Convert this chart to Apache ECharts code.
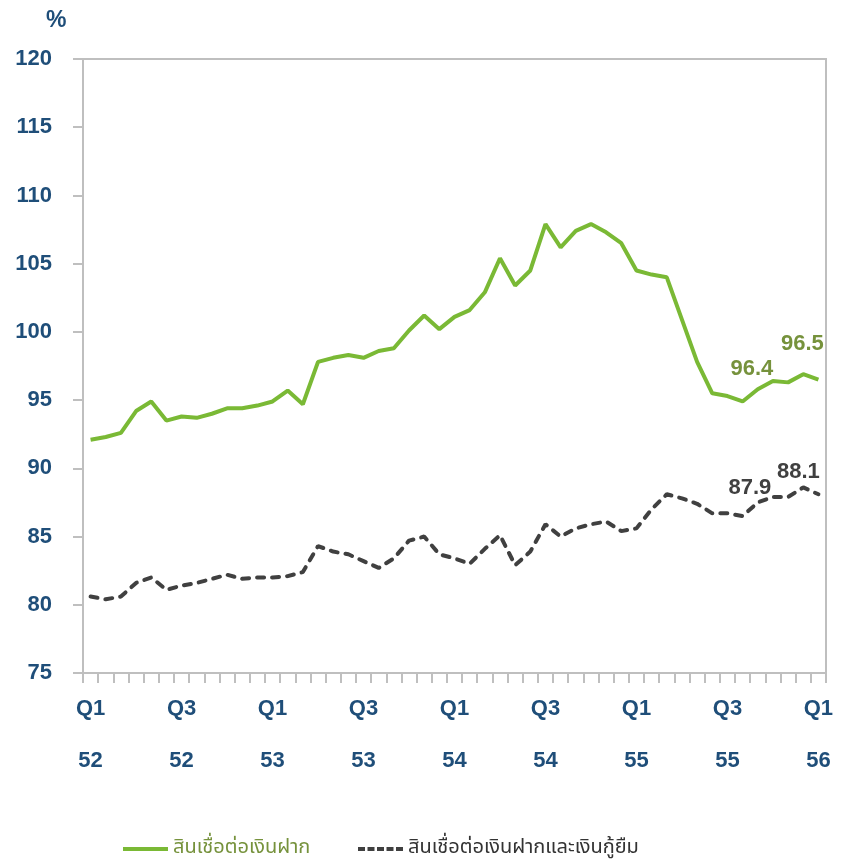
<!DOCTYPE html>
<html>
<head>
<meta charset="utf-8">
<script src="https://cdn.jsdelivr.net/npm/echarts@6/dist/echarts.min.js"></script>
<style>
	html,body{margin:0;padding:0;background:#fff;}
	#chart{width:846px;height:863px;}
</style>
</head>
<body>
<div id="chart"></div>
<script>
// เดือน (ปี พ.ศ. 2 หลัก)
var categories=['01/52','02/52','03/52','04/52','05/52','06/52','07/52','08/52','09/52','10/52','11/52','12/52',
	'01/53','02/53','03/53','04/53','05/53','06/53','07/53','08/53','09/53','10/53','11/53','12/53',
	'01/54','02/54','03/54','04/54','05/54','06/54','07/54','08/54','09/54','10/54','11/54','12/54',
	'01/55','02/55','03/55','04/55','05/55','06/55','07/55','08/55','09/55','10/55','11/55','12/55',
	'01/56'];
// ชื่อไตรมาสที่แสดงบนแกน
var quarterNames={'01':'Q1','07':'Q3'};
var yTicks=[75,80,85,90,95,100,105,110,115,120];

var nameDeposit='สินเชื่อต่อเงินฝาก';
var nameDepositBorrow='สินเชื่อต่อเงินฝากและเงินกู้ยืม';

var depositData=[92.1,92.3,92.6,94.2,94.9,93.5,93.8,93.7,94.0,94.4,94.4,94.6,
	94.9,95.7,94.7,97.8,98.1,98.3,98.1,98.6,98.8,100.1,101.2,100.2,
	101.1,101.6,102.9,105.4,103.4,104.5,107.9,106.2,107.4,107.9,107.3,106.5,
	104.5,104.2,104.0,100.9,97.8,95.5,95.3,94.9,95.8,96.4,96.3,96.9,
	96.5];
var depositBorrowData=[80.6,80.4,80.6,81.6,82.0,81.1,81.4,81.6,81.9,82.2,81.9,82.0,
	82.0,82.1,82.4,84.3,83.9,83.7,83.2,82.7,83.4,84.7,85.0,83.7,
	83.4,83.0,84.1,85.1,82.9,83.9,85.9,85.0,85.6,85.9,86.1,85.4,
	85.6,87.0,88.1,87.8,87.4,86.7,86.7,86.5,87.5,87.9,87.9,88.6,
	88.1];
// จุดที่แสดงค่า
var depositLabelIdx=[45,48];
var depositBorrowLabelIdx=[45,48];

var numFont='"Liberation Sans", Arial, sans-serif';
var thaiFont='"Noto Sans Thai", "Noto Sans", "DejaVu Sans", sans-serif';
var blue='#1f4e79';
var grey='#bfbfbf';
var green='#7ab935';
var greenText='#76923c';
var dark='#404040';

// เส้นประสำหรับ legend
var dashIcon='path://M0,0h7v4h-7zM9.5,0h7v4h-7zM19,0h7v4h-7zM28.5,0h7v4h-7zM38,0h7v4h-7z';

function withLabels(values,idx,offsets,color){
	return values.map(function(v,i){
		var k=idx.indexOf(i);
		if(k<0) return v;
		return {
			value:v,
			label:{
				show:true,
				position:'top',
				offset:offsets[k],
				color:color,
				fontFamily:numFont,
				fontWeight:'bold',
				fontSize:22,
				formatter:function(p){return p.value.toFixed(1);}
			}
		};
	});
}

var chart=echarts.init(document.getElementById('chart'));
var option={
	backgroundColor:'#fff',
	animation:false,
	title:{
		text:'%',
		left:41,
		top:4,
		textStyle:{color:blue,fontFamily:numFont,fontWeight:'bold',fontSize:23}
	},
	grid:{
		left:83,
		right:20,
		top:59,
		bottom:190,
		show:true,
		borderColor:grey,
		borderWidth:2
	},
	legend:[{
		data:[{name:nameDeposit,icon:'rect',itemStyle:{color:green},textStyle:{color:greenText}}],
		left:118,
		top:834,
		itemWidth:45,
		itemHeight:4,
		textStyle:{fontFamily:thaiFont,fontSize:20}
	},{
		data:[{name:nameDepositBorrow,icon:dashIcon,itemStyle:{color:dark},textStyle:{color:'#333333'}}],
		left:353,
		top:834,
		itemWidth:45,
		itemHeight:4,
		textStyle:{fontFamily:thaiFont,fontSize:20}
	}],
	xAxis:{
		type:'category',
		data:categories,
		boundaryGap:true,
		axisLine:{lineStyle:{color:grey,width:2}},
		axisTick:{show:true,interval:0,length:10,lineStyle:{color:grey,width:2}},
		axisLabel:{
			interval:5,
			margin:10,
			lineHeight:52,
			color:blue,
			fontFamily:numFont,
			fontWeight:'bold',
			fontSize:22,
			formatter:function(v){
				var p=v.split('/');
				return (quarterNames[p[0]]||'')+'\n'+p[1];
			}
		},
		splitLine:{show:false}
	},
	yAxis:{
		type:'value',
		min:yTicks[0],
		max:yTicks[yTicks.length-1],
		interval:5,
		axisLine:{show:true,lineStyle:{color:grey,width:2}},
		axisTick:{show:true,length:10,lineStyle:{color:grey,width:2}},
		axisLabel:{
			margin:31,
			color:blue,
			fontFamily:numFont,
			fontWeight:'bold',
			fontSize:22
		},
		splitLine:{show:false}
	},
	series:[{
		name:nameDeposit,
		type:'line',
		symbol:'circle',
		symbolSize:0,
		showAllSymbol:true,
		data:withLabels(depositData,depositLabelIdx,[[-21,4],[-16,-20]],greenText),
		lineStyle:{color:green,width:4},
		itemStyle:{color:green}
	},{
		name:nameDepositBorrow,
		type:'line',
		symbol:'circle',
		symbolSize:0,
		showAllSymbol:true,
		data:withLabels(depositBorrowData,depositBorrowLabelIdx,[[-23,7],[-20,-6]],dark),
		lineStyle:{color:dark,width:4,type:[7,8],cap:'round'},
		itemStyle:{color:dark}
	}]
};
chart.setOption(option);
</script>
</body>
</html>
